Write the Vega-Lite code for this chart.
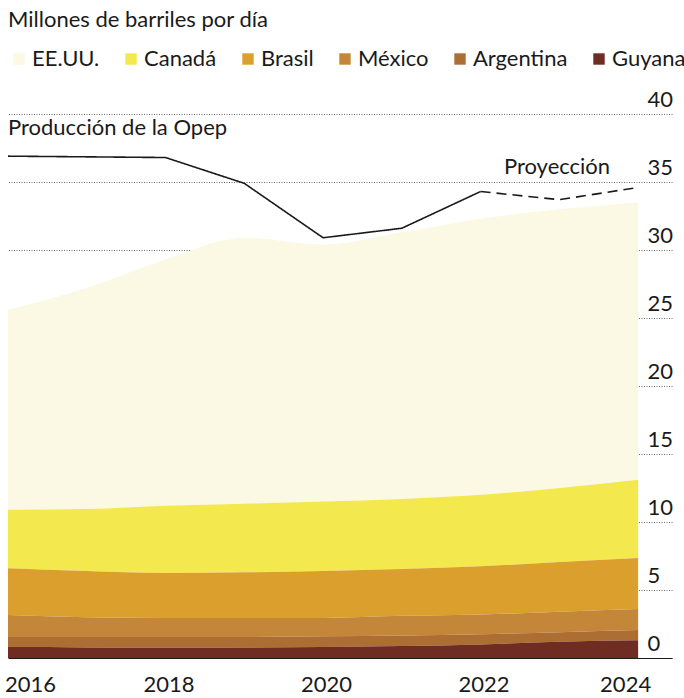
{
  "$schema": "https://vega.github.io/schema/vega-lite/v6.json",
  "autosize": "none",
  "width": 664,
  "height": 544,
  "padding": {"left": 8, "right": 12, "top": 114, "bottom": 40},
  "background": "#ffffff",
  "config": {
    "font": "Lato",
    "view": {"stroke": null},
    "title": {"font": "Lato", "fontSize": 22, "fontWeight": "normal", "color": "#1a1a1a"},
    "axis": {"labelFont": "Lato", "labelFontSize": 22, "labelColor": "#1a1a1a"},
    "legend": {"labelFont": "Lato", "labelFontSize": 22, "labelColor": "#1a1a1a"}
  },
  "title": {"text": "Millones de barriles por día", "anchor": "start", "frame": "group", "offset": 16},
  "datasets": {
    "paises": [
      {"anio": 2016, "pais": "EE.UU.", "orden": 6, "valor": 14.7},
      {"anio": 2017, "pais": "EE.UU.", "orden": 6, "valor": 16.25},
      {"anio": 2018, "pais": "EE.UU.", "orden": 6, "valor": 18.1},
      {"anio": 2019, "pais": "EE.UU.", "orden": 6, "valor": 19.55},
      {"anio": 2020, "pais": "EE.UU.", "orden": 6, "valor": 18.9},
      {"anio": 2021, "pais": "EE.UU.", "orden": 6, "valor": 19.6},
      {"anio": 2022, "pais": "EE.UU.", "orden": 6, "valor": 20.3},
      {"anio": 2023, "pais": "EE.UU.", "orden": 6, "valor": 20.5},
      {"anio": 2024, "pais": "EE.UU.", "orden": 6, "valor": 20.4},
      {"anio": 2016, "pais": "Canadá", "orden": 5, "valor": 4.3},
      {"anio": 2017, "pais": "Canadá", "orden": 5, "valor": 4.55},
      {"anio": 2018, "pais": "Canadá", "orden": 5, "valor": 4.95},
      {"anio": 2019, "pais": "Canadá", "orden": 5, "valor": 5.05},
      {"anio": 2020, "pais": "Canadá", "orden": 5, "valor": 5.1},
      {"anio": 2021, "pais": "Canadá", "orden": 5, "valor": 5.15},
      {"anio": 2022, "pais": "Canadá", "orden": 5, "valor": 5.25},
      {"anio": 2023, "pais": "Canadá", "orden": 5, "valor": 5.45},
      {"anio": 2024, "pais": "Canadá", "orden": 5, "valor": 5.75},
      {"anio": 2016, "pais": "Brasil", "orden": 4, "valor": 3.44},
      {"anio": 2017, "pais": "Brasil", "orden": 4, "valor": 3.4},
      {"anio": 2018, "pais": "Brasil", "orden": 4, "valor": 3.3},
      {"anio": 2019, "pais": "Brasil", "orden": 4, "valor": 3.35},
      {"anio": 2020, "pais": "Brasil", "orden": 4, "valor": 3.45},
      {"anio": 2021, "pais": "Brasil", "orden": 4, "valor": 3.45},
      {"anio": 2022, "pais": "Brasil", "orden": 4, "valor": 3.55},
      {"anio": 2023, "pais": "Brasil", "orden": 4, "valor": 3.65},
      {"anio": 2024, "pais": "Brasil", "orden": 4, "valor": 3.75},
      {"anio": 2016, "pais": "México", "orden": 3, "valor": 1.61},
      {"anio": 2017, "pais": "México", "orden": 3, "valor": 1.45},
      {"anio": 2018, "pais": "México", "orden": 3, "valor": 1.4},
      {"anio": 2019, "pais": "México", "orden": 3, "valor": 1.4},
      {"anio": 2020, "pais": "México", "orden": 3, "valor": 1.35},
      {"anio": 2021, "pais": "México", "orden": 3, "valor": 1.45},
      {"anio": 2022, "pais": "México", "orden": 3, "valor": 1.45},
      {"anio": 2023, "pais": "México", "orden": 3, "valor": 1.5},
      {"anio": 2024, "pais": "México", "orden": 3, "valor": 1.55},
      {"anio": 2016, "pais": "Argentina", "orden": 2, "valor": 0.75},
      {"anio": 2017, "pais": "Argentina", "orden": 2, "valor": 0.77},
      {"anio": 2018, "pais": "Argentina", "orden": 2, "valor": 0.8},
      {"anio": 2019, "pais": "Argentina", "orden": 2, "valor": 0.78},
      {"anio": 2020, "pais": "Argentina", "orden": 2, "valor": 0.8},
      {"anio": 2021, "pais": "Argentina", "orden": 2, "valor": 0.77},
      {"anio": 2022, "pais": "Argentina", "orden": 2, "valor": 0.75},
      {"anio": 2023, "pais": "Argentina", "orden": 2, "valor": 0.7},
      {"anio": 2024, "pais": "Argentina", "orden": 2, "valor": 0.75},
      {"anio": 2016, "pais": "Guyana", "orden": 1, "valor": 0.8},
      {"anio": 2017, "pais": "Guyana", "orden": 1, "valor": 0.78},
      {"anio": 2018, "pais": "Guyana", "orden": 1, "valor": 0.75},
      {"anio": 2019, "pais": "Guyana", "orden": 1, "valor": 0.77},
      {"anio": 2020, "pais": "Guyana", "orden": 1, "valor": 0.8},
      {"anio": 2021, "pais": "Guyana", "orden": 1, "valor": 0.88},
      {"anio": 2022, "pais": "Guyana", "orden": 1, "valor": 1.0},
      {"anio": 2023, "pais": "Guyana", "orden": 1, "valor": 1.2},
      {"anio": 2024, "pais": "Guyana", "orden": 1, "valor": 1.3}
    ],
    "opep": [
      {"anio": 2016, "valor": 36.9, "tramo": "real"},
      {"anio": 2017, "valor": 36.85, "tramo": "real"},
      {"anio": 2018, "valor": 36.8, "tramo": "real"},
      {"anio": 2019, "valor": 34.9, "tramo": "real"},
      {"anio": 2020, "valor": 30.9, "tramo": "real"},
      {"anio": 2021, "valor": 31.6, "tramo": "real"},
      {"anio": 2022, "valor": 34.3, "tramo": "real"},
      {"anio": 2022, "valor": 34.3, "tramo": "proyeccion"},
      {"anio": 2023, "valor": 33.7, "tramo": "proyeccion"},
      {"anio": 2024, "valor": 34.6, "tramo": "proyeccion"}
    ]
  },
  "layer": [
    {
      "data": {"name": "paises"},
      "mark": {"type": "area", "interpolate": "monotone", "strokeWidth": 0},
      "encoding": {
        "x": {
          "field": "anio", "type": "quantitative",
          "scale": {"domain": [2016, 2024.43], "nice": false, "zero": false},
          "axis": {
            "values": [2016, 2018, 2020, 2022, 2024], "format": "d", "title": null,
            "grid": false, "ticks": false, "domain": true, "domainColor": "#1a1a1a", "domainWidth": 1.2,
            "labelPadding": 16, "labelFlush": false,
            "labelOffset": {"condition": [{"test": "datum.value == 2016", "value": 22}, {"test": "datum.value == 2024", "value": -13}], "value": 3}
          }
        },
        "y": {
          "field": "valor", "type": "quantitative", "stack": "zero",
          "scale": {"domain": [0, 40], "nice": false},
          "axis": {
            "orient": "right", "values": [0, 5, 10, 15, 20, 25, 30, 35, 40], "title": null,
            "grid": true, "gridColor": "#444444", "gridDash": [1, 1.5], "gridWidth": 0.8,
            "ticks": false, "domain": false,
            "labelAlign": "left", "labelPadding": -25, "labelBaseline": "alphabetic", "labelOffset": -8
          }
        },
        "order": {"field": "orden", "type": "quantitative", "sort": "ascending"},
        "color": {
          "field": "pais", "type": "nominal",
          "scale": {
            "domain": ["EE.UU.", "Canadá", "Brasil", "México", "Argentina", "Guyana"],
            "range": ["#FBF9E3", "#F3E84E", "#DB9F2E", "#C4873A", "#AD6E34", "#6F2C22"]
          },
          "legend": {
            "orient": "top", "direction": "horizontal", "title": null, "padding": 0,
            "symbolType": "square", "symbolSize": 130, "symbolStrokeWidth": 0, "symbolOpacity": 1,
            "labelOffset": 2, "columnPadding": 20, "offset": 44
          }
        }
      }
    },
    {
      "data": {"name": "opep"},
      "mark": {"type": "line", "color": "#1a1a1a", "strokeWidth": 1.6},
      "encoding": {
        "x": {"field": "anio", "type": "quantitative"},
        "y": {"field": "valor", "type": "quantitative"},
        "strokeDash": {
          "field": "tramo", "type": "nominal",
          "scale": {"domain": ["real", "proyeccion"], "range": [[1, 0], [10, 6]]},
          "legend": null
        }
      }
    },
    {
      "data": {"values": [{"anio": 2016, "valor": 39.0, "texto": "Producción de la Opep"}]},
      "mark": {"type": "text", "fontSize": 22, "color": "#1a1a1a", "baseline": "middle", "align": "left", "font": "Lato"},
      "encoding": {
        "x": {"field": "anio", "type": "quantitative"},
        "y": {"field": "valor", "type": "quantitative"},
        "text": {"field": "texto"}
      }
    },
    {
      "data": {"values": [{"anio": 2022.97, "valor": 36.1, "texto": "Proyección"}]},
      "mark": {"type": "text", "fontSize": 22, "color": "#1a1a1a", "baseline": "middle", "align": "center", "font": "Lato"},
      "encoding": {
        "x": {"field": "anio", "type": "quantitative"},
        "y": {"field": "valor", "type": "quantitative"},
        "text": {"field": "texto"}
      }
    }
  ]
}
